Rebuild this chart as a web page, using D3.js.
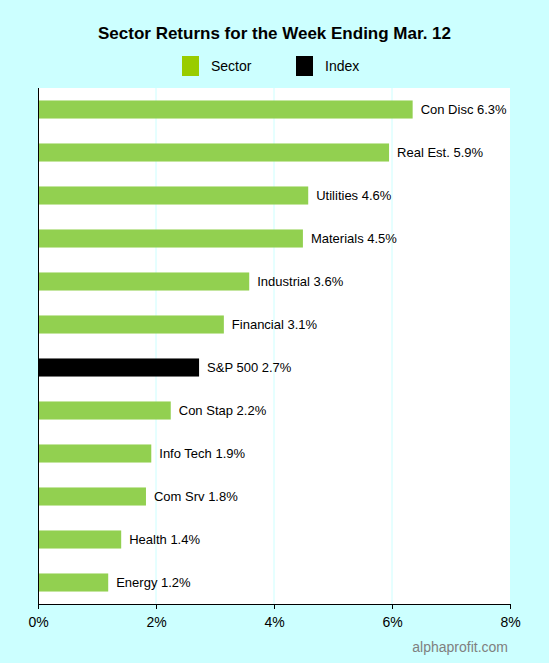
<!DOCTYPE html>
<html><head><meta charset="utf-8">
<script src="https://cdn.jsdelivr.net/npm/d3@7"></script>
<style>body{margin:0;background:#ccffff;font-family:Arial,"Liberation Sans",sans-serif;}</style>
</head><body><div id="chart"></div>
<script>
const labels = ["Con Disc", "Real Est.", "Utilities", "Materials", "Industrial", "Financial", "S&P 500", "Con Stap", "Info Tech", "Com Srv", "Health", "Energy"];
const values = [6.35, 5.95, 4.58, 4.49, 3.58, 3.15, 2.73, 2.25, 1.92, 1.83, 1.41, 1.19];
const shown = ["6.3%", "5.9%", "4.6%", "4.5%", "3.6%", "3.1%", "2.7%", "2.2%", "1.9%", "1.8%", "1.4%", "1.2%"];
const ticks = [0, 2, 4, 6, 8];

const W = 549, H = 663;
const margin = { top: 88, right: 39, bottom: 59, left: 38 };
const width = W - margin.left - margin.right;
const height = H - margin.top - margin.bottom;

const svg = d3.select("#chart").append("svg").attr("width", W).attr("height", H);
svg.append("rect").attr("width", W).attr("height", H).attr("fill", "#ccffff");

svg.append("text").attr("x", W / 2).attr("y", 39).attr("text-anchor", "middle")
    .style("font-size", "17px").style("font-weight", "bold").text("Sector Returns for the Week Ending Mar. 12");

// legend
const legend = [["Sector", "#99cc00", 182], ["Index", "#000000", 296]];
legend.forEach(([name, col, x]) => {
    svg.append("rect").attr("x", x).attr("y", 56).attr("width", 17).attr("height", 20).attr("fill", col);
    svg.append("text").attr("x", x + 29).attr("y", 71).style("font-size", "14px").text(name);
});

const g = svg.append("g").attr("transform", `translate(${margin.left},${margin.top})`);
g.append("rect").attr("width", width).attr("height", height).attr("fill", "#fff");

const x = d3.scaleLinear().domain([0, 8]).range([0, width]);
const y = d3.scaleBand().domain(labels).range([0, height]).paddingInner(0.58).paddingOuter(0.29);

g.selectAll(".grid").data(ticks.slice(1, 4)).enter().append("line")
    .attr("x1", d => x(d)).attr("x2", d => x(d)).attr("y1", 0).attr("y2", height)
    .attr("stroke", "#ccffff");

g.selectAll(".bar").data(labels).enter().append("rect")
    .attr("x", 0).attr("y", d => y(d)).attr("width", (d, i) => x(values[i]))
    .attr("height", y.bandwidth())
    .attr("fill", d => d === "S&P 500" ? "#000" : "#92d050");

g.selectAll(".lbl").data(labels).enter().append("text")
    .attr("x", (d, i) => x(values[i]) + 8).attr("y", d => y(d) + y.bandwidth() / 2 + 4.5)
    .style("font-size", "13px").text((d, i) => `${d} ${shown[i]}`);

g.append("line").attr("x1", 0.5).attr("x2", 0.5).attr("y1", 0).attr("y2", height).attr("stroke", "#000");

const ax = g.append("g").attr("transform", `translate(0,${height})`)
    .call(d3.axisBottom(x).tickValues(ticks).tickFormat(d => d + "%").tickSize(5).tickSizeOuter(0));
ax.select(".domain").attr("stroke", "#000");
ax.selectAll("text").style("font-size", "14px").style("font-family", "Arial, 'Liberation Sans', sans-serif").attr("dy", "1.1em");

svg.append("text").attr("x", 508).attr("y", 652).attr("text-anchor", "end")
    .style("font-size", "14px").attr("fill", "#808080").text("alphaprofit.com");
</script></body></html>
